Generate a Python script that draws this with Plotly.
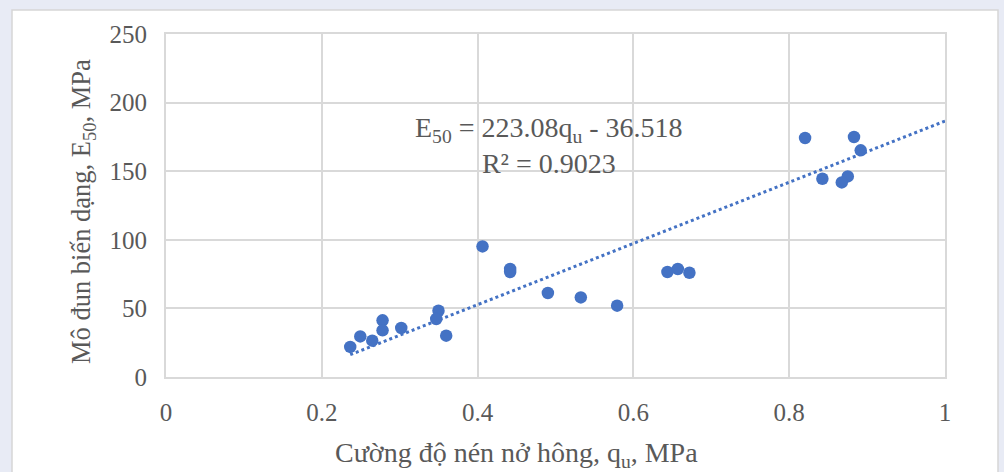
import plotly.graph_objects as go

# Data
qu = [0.2365, 0.2494, 0.2648, 0.278, 0.278, 0.302, 0.3498, 0.3469, 0.3597, 0.4063,
      0.4418, 0.4418, 0.4902, 0.5325, 0.5791, 0.6437, 0.657, 0.6719,
      0.8204, 0.8832, 0.8918, 0.8426, 0.8752, 0.8675]
E50 = [21.9, 29.6, 26.5, 41.3, 34.0, 35.7, 48.3, 42.3, 30.1, 95.2,
       78.7, 76.5, 61.2, 58.0, 52.0, 76.5, 78.7, 76.0,
       174.2, 174.9, 165.2, 144.5, 146.2, 141.8]

slope = 223.08
intercept = -36.518
r2 = 0.9023
trend_x = [min(qu), 1.0]
trend_y = [slope * x + intercept for x in trend_x]

x_ticks = [0, 0.2, 0.4, 0.6, 0.8, 1]
y_ticks = [0, 50, 100, 150, 200, 250]

blue = "#4472C4"
txt = "#595959"
grid = "#d9d9d9"
font_family = "Liberation Serif"

fig = go.Figure()
fig.add_trace(go.Scatter(x=trend_x, y=trend_y, mode="lines",
                         line=dict(color=blue, width=3, dash="dot"),
                         hoverinfo="skip", showlegend=False))
fig.add_trace(go.Scatter(x=qu, y=E50, mode="markers",
                         marker=dict(color=blue, size=12.5),
                         showlegend=False))

L, R, T, B = 166, 59, 34, 95
W, H = 1004, 472
pw, ph = W - L - R, H - T - B


def px_x(p):
    return (p - L) / pw


def px_y(p):
    return 1 - (p - T) / ph


# white card
fig.add_shape(type="rect", xref="paper", yref="paper", layer="below",
              x0=px_x(12), x1=px_x(998), y0=px_y(H + 20), y1=px_y(10),
              fillcolor="white", line=dict(color="#d6d6d6", width=1.5))

fig.add_annotation(x=px_x(549), y=px_y(146), xref="paper", yref="paper",
                   text=f"E<sub>50</sub> = {slope}q<sub>u</sub> - {abs(intercept)}<br>R² = {r2}",
                   showarrow=False, align="center", xanchor="center", yanchor="middle",
                   font=dict(family=font_family, size=28, color=txt))

# axis titles
fig.add_annotation(x=px_x(516), y=px_y(455), xref="paper", yref="paper",
                   text="Cường độ nén nở hông, q<sub>u</sub>, MPa",
                   showarrow=False, xanchor="center", yanchor="middle",
                   font=dict(family=font_family, size=28, color=txt))
fig.add_annotation(x=px_x(83), y=px_y(212), xref="paper", yref="paper",
                   text="Mô đun biến dạng, E<sub>50</sub>, MPa", textangle=-90,
                   showarrow=False, xanchor="center", yanchor="middle",
                   font=dict(family=font_family, size=26.5, color=txt))

fig.update_layout(
    width=W, height=H,
    margin=dict(l=L, r=R, t=T, b=B),
    paper_bgcolor="#E8EBF5",
    plot_bgcolor="white",
    font=dict(family=font_family, color=txt, size=24),
    xaxis=dict(range=[0, 1], tickvals=x_ticks, ticktext=[str(v) for v in x_ticks],
               showgrid=True, gridcolor=grid, gridwidth=1.5,
               showline=True, linecolor=grid, linewidth=2, mirror=True,
               zeroline=False, ticks="", ticklabelstandoff=12,
               tickfont=dict(size=25, color=txt)),
    yaxis=dict(range=[0, 250], tickvals=y_ticks,
               showgrid=True, gridcolor=grid, gridwidth=1.5,
               showline=True, linecolor=grid, linewidth=2, mirror=True,
               zeroline=False, ticks="", ticklabelstandoff=12,
               tickfont=dict(size=25, color=txt)),
)

fig.write_html("out.html")
